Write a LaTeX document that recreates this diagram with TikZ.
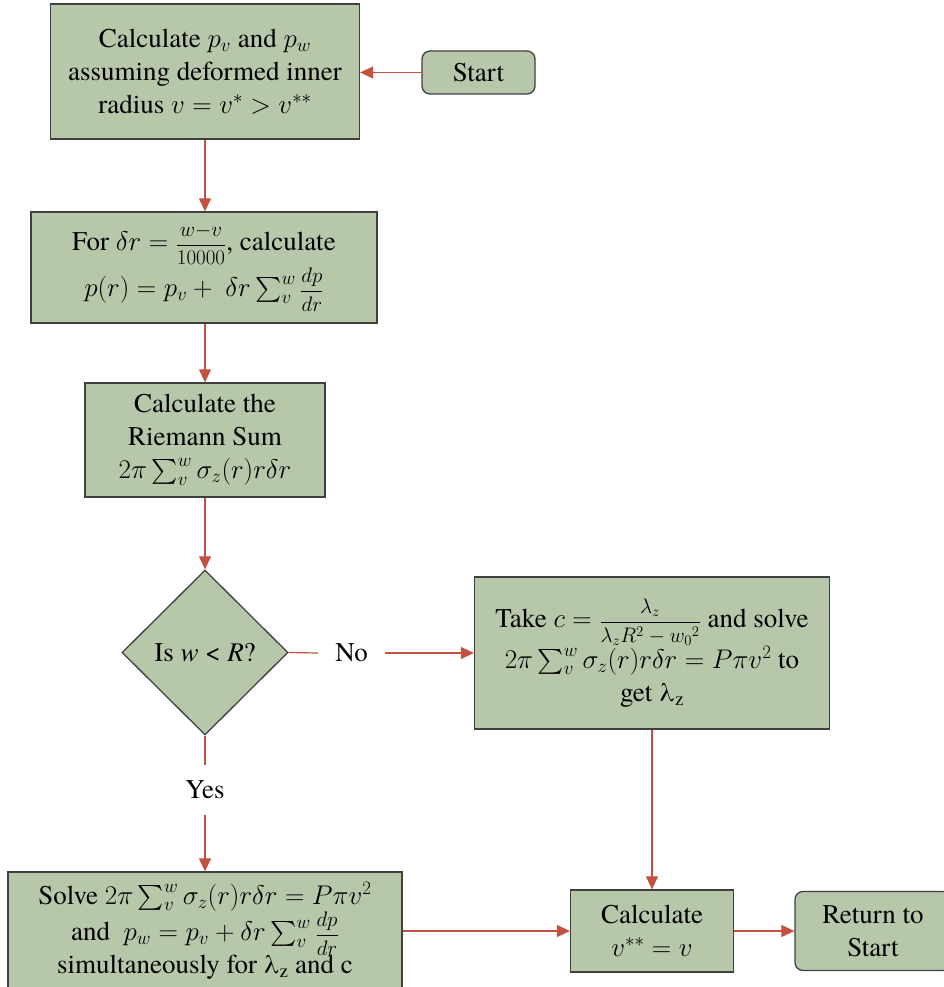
\RequirePackage{fix-cm}
\documentclass[tikz,border=0pt]{standalone}
\usepackage{amsmath}
\usepackage{fontspec}
\IfFontExistsTF{texgyretermes-regular.otf}{%
  \setmainfont{texgyretermes}[Extension=.otf,UprightFont=*-regular,ItalicFont=*-italic,BoldFont=*-bold,BoldItalicFont=*-bolditalic]}{}
\usetikzlibrary{shapes.geometric,arrows.meta}
\definecolor{boxfill}{RGB}{182,199,170}
\definecolor{boxline}{RGB}{64,64,64}
\definecolor{arr}{RGB}{196,80,64}
\newcommand{\bigfrac}[2]{\mbox{\fontsize{21}{21}\selectfont$\displaystyle\frac{#1}{#2}$}}
\tikzset{
  box/.style={draw=boxline, line width=1.3pt, fill=boxfill, align=center, inner sep=0pt,
    font=\fontsize{27}{33}\selectfont},
  rbox/.style={box, rounded corners=8pt},
  dbox/.style={box, shape=diamond},
  lab/.style={inner sep=0pt, font=\fontsize{27}{33}\selectfont},
  conn/.style={draw=arr, line width=1.2pt, -{Triangle[width=12pt,length=13pt]}},
  seg/.style={draw=arr, line width=1.2pt}
}
\begin{document}
\begin{tikzpicture}[x=1pt,y=-1pt]
\useasboundingbox (0,0) rectangle (943,987);
\node[box, minimum width=309pt, minimum height=135pt] (b1) at (205,71.5)
  {Calculate $p_v$ and $p_w$\\assuming deformed inner\\radius $v = v^{*} > v^{**}$};
\node[rbox, minimum width=113pt, minimum height=43pt] (start) at (478.5,72.5) {Start};
\node[box, minimum width=346pt, minimum height=111pt] (b2) at (204,267.5)
  {For $\delta r = \bigfrac{w{-}v}{10000}$, calculate\\[2pt]$p(r) = p_v +\ \delta r \sum_v^w \bigfrac{dp}{dr}$};
\node[box, minimum width=240pt, minimum height=114pt] (b3) at (205,440)
  {Calculate the\\Riemann Sum\\$2\pi \sum_v^w \sigma_z(r) r\delta r$};
\node[dbox, minimum width=166pt, minimum height=165pt] (dia) at (205,652.5)
  {Is \textit{w} < \textit{R}?};
\node[box, minimum width=355pt, minimum height=152pt] (rb) at (652,653)
  {Take $c = \bigfrac{\lambda_z}{\lambda_z R^2 - {w_0}^2}$ and solve\\$2\pi \sum_v^w \sigma_z(r) r\delta r = P\pi v^2$ to\\get λ\textsubscript{z}};
\node[box, minimum width=394pt, minimum height=118pt] (bl) at (205,931)
  {Solve $2\pi \sum_v^w \sigma_z(r) r\delta r = P\pi v^2$\\and\ \ $p_w = p_v + \delta r \sum_v^w \bigfrac{dp}{dr}$\\simultaneously for λ\textsubscript{z} and c};
\node[box, minimum width=163pt, minimum height=82pt] (cv) at (652,931)
  {Calculate\\$v^{**} = v$};
\node[rbox, minimum width=156pt, minimum height=79pt] (ret) at (873,931)
  {Return to\\Start};
\node[lab, minimum width=67pt, minimum height=30pt] (no) at (351.5,653) {No};
\node[lab, minimum width=40pt, minimum height=50pt] (yes) at (205,790) {Yes};
\draw[conn] (start.west) -- (b1.east |- start.west);
\draw[conn] (b1.south) -- (b1.south |- b2.north);
\draw[conn] (b2.south -| b3.north) -- (b3.north);
\draw[conn] (b3.south) -- (dia.north);
\draw[seg] (dia.east) -- (no.west);
\draw[conn] (no.east) -- (rb.west);
\draw[seg] (dia.south) -- (yes.north);
\draw[conn] (yes.south) -- (bl.north);
\draw[conn] (rb.south) -- (cv.north);
\draw[conn] (bl.east) -- (cv.west);
\draw[conn] (cv.east) -- (ret.west);
\end{tikzpicture}
\end{document}
